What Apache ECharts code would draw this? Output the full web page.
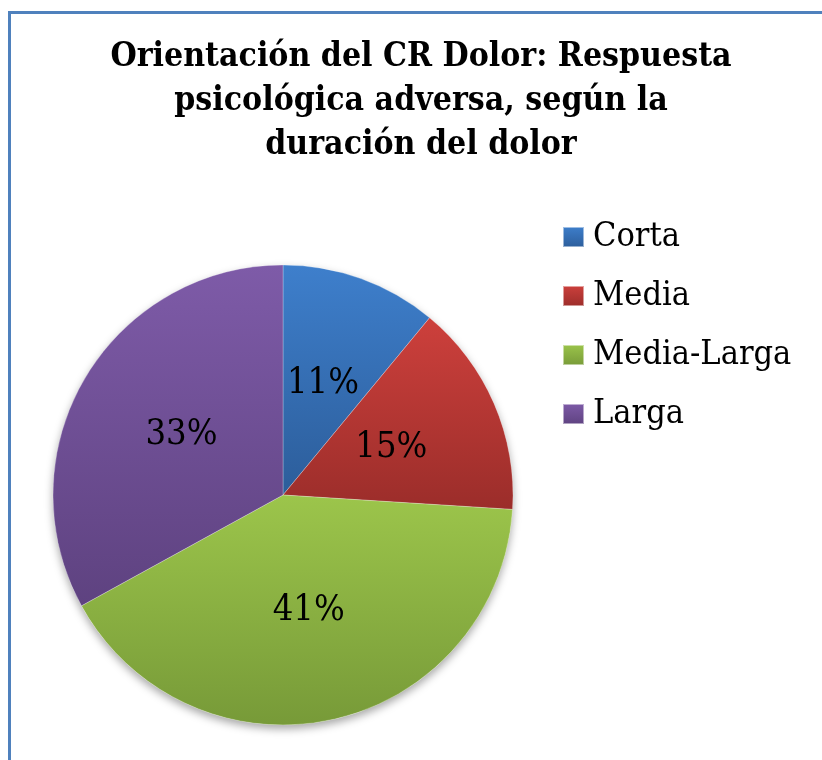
<!DOCTYPE html>
<html>
<head>
<meta charset="utf-8">
<script src="https://cdn.jsdelivr.net/npm/echarts@6/dist/echarts.min.js"></script>
<style>
  html, body { margin: 0; padding: 0; background: #ffffff; overflow: hidden; }
  #frame { position: absolute; left: 8px; top: 11px; width: 900px; height: 900px;
           border: 3px solid #4F81BD; box-sizing: border-box; }
  #chart { position: absolute; left: 0; top: 0; width: 822px; height: 760px; }
</style>
</head>
<body>
<div id="frame"></div>
<div id="chart"></div>
<script>
const titleText = 'Orientación del CR Dolor: Respuesta\npsicológica adversa, según la\nduración del dolor';
const categories = ['Corta', 'Media', 'Media-Larga', 'Larga'];
const values = [11, 15, 41, 33];
const colorTop = ['#3E7FCC', '#CD403C', '#9CC54B', '#7E5BA8'];
const colorBottom = ['#2C5D9A', '#9B2D2A', '#779A38', '#5E4280'];

const grad = (i) => new echarts.graphic.LinearGradient(0, 0, 0, 1, [
  { offset: 0, color: colorTop[i] },
  { offset: 1, color: colorBottom[i] }
]);

const font = '"DejaVu Serif Condensed", "Liberation Serif", serif';
const chart = echarts.init(document.getElementById('chart'), null, { renderer: 'canvas' });

chart.setOption({
  animation: false,
  backgroundColor: 'transparent',
  title: {
    text: titleText,
    left: 421,
    textAlign: 'center',
    top: 35,
    padding: 0,
    textStyle: {
      fontFamily: font,
      fontWeight: 'bold',
      fontSize: 33.5,
      lineHeight: 44,
      color: '#000000'
    }
  },
  legend: {
    orient: 'vertical',
    left: 562,
    top: 218,
    padding: 0,
    itemWidth: 21,
    itemHeight: 20,
    itemGap: 21,
    icon: 'rect',
    data: categories,
    textStyle: {
      fontFamily: font,
      fontSize: 34,
      lineHeight: 38,
      color: '#000000',
      padding: [0, 0, 0, 4]
    }
  },
  series: [
    {
      type: 'pie',
      silent: true,
      center: [283, 495],
      radius: 230,
      z: 1,
      label: { show: false },
      labelLine: { show: false },
      itemStyle: {
        color: '#ffffff',
        shadowBlur: 8,
        shadowOffsetY: 4,
        shadowColor: 'rgba(0,0,0,0.35)'
      },
      data: [{ name: '_shadow', value: values.reduce((a, b) => a + b, 0) }],
      legendHoverLink: false
    },
    {
      type: 'pie',
      center: [283, 495],
      radius: 230,
      startAngle: 90,
      clockwise: true,
      z: 2,
      label: {
        show: true,
        position: 'inside',
        formatter: (p) => p.value + '%',
        fontFamily: font,
        fontSize: 36,
        color: '#000000'
      },
      labelLine: { show: false },
      itemStyle: { borderColor: 'rgba(255,255,255,0.5)', borderWidth: 0.5 },
      data: categories.map((c, i) => ({ name: c, value: values[i], itemStyle: { color: grad(i) } }))
    }
  ]
});
</script>
</body>
</html>
